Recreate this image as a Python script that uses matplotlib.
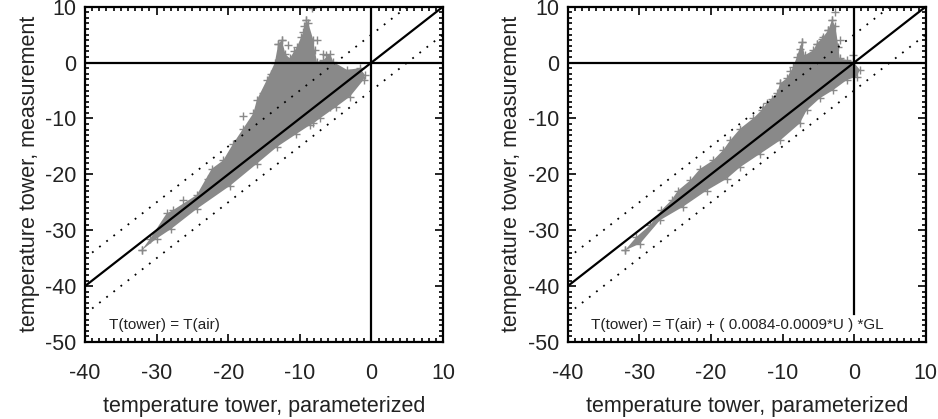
import numpy as np
import matplotlib
matplotlib.use("Agg")
import matplotlib.pyplot as plt
from matplotlib.ticker import MultipleLocator

plt.rcParams['font.family'] = ['Liberation Sans', 'DejaVu Sans']
plt.rcParams['axes.unicode_minus'] = False

# --- data -----------------------------------------------------------------
# dense core of the point cloud, outline (upper edge then lower edge)
left_upper_x = [-32.1, -30.9, -28.6, -27.7, -24.4, -22.3, -20.7, -19.3, -17.9, -16.5,
                -16.0, -14.6, -13.5, -13.0, -12.5, -12.0, -11.4, -10.4, -9.5, -9.1,
                -8.8, -8.1, -7.9, -7.6, -6.7, -5.8, -5.3, -3.4, -1.6, -0.9]
left_upper_y = [-33.6, -31.5, -27.0, -26.4, -23.7, -19.0, -17.5, -14.5, -11.8, -9.1,
                -6.7, -3.1, -0.1, 3.4, 4.0, 1.5, 0.75, 2.8, 5.5, 7.6,
                7.0, 4.0, 2.2, 0.1, 0.45, 1.6, 0.1, -1.3, -1.0, -2.2]
left_lower_x = [-1.1, -3.0, -4.9, -7.2, -8.1, -8.6, -10.5, -13.2, -16.0, -19.7,
                -24.4, -28.0, -30.0, -32.1]
left_lower_y = [-3.1, -6.1, -7.9, -10.0, -10.9, -11.2, -12.8, -15.1, -18.1, -22.0,
                -26.2, -29.8, -31.5, -33.6]
left_plus_x = [-8.3, -9.1, -9.4, -12.5, -13.0, -11.6, -7.6, -6.7, -17.9, -22.8,
               -26.3, -5.8, -10.8, -12.2, -14.0, -15.2, -9.9, -6.3]
left_plus_y = [9.7, 7.6, 6.5, 4.0, 3.4, 3.2, 4.0, 1.6, -9.5, -20.8,
               -24.6, -7.9, 2.0, -0.8, -2.0, -5.5, 4.5, 1.3]

right_upper_x = [-32.0, -30.4, -28.5, -26.9, -25.5, -24.6, -22.9, -21.5, -19.7, -18.3,
                 -17.3, -15.9, -14.1, -12.9, -12.2, -10.8, -10.3, -9.4, -8.5, -8.0,
                 -7.3, -6.9, -5.7, -5.2, -4.3, -3.6, -3.1, -2.6, -2.2, -2.0,
                 -1.0, -0.1, 0.8]
right_upper_y = [-33.6, -31.2, -29.1, -26.4, -24.6, -22.9, -21.1, -19.0, -17.5, -15.7,
                 -13.9, -11.8, -10.0, -8.5, -7.3, -5.5, -3.7, -2.8, -0.75, 1.0,
                 3.7, 1.3, 2.2, 3.4, 4.6, 5.8, 7.6, 6.5, 2.8, 0.75,
                 0.45, 0.15, -1.3]
right_lower_x = [0.4, -1.0, -2.9, -4.8, -6.6, -7.6, -10.3, -13.1, -15.9, -17.8,
                 -20.6, -23.9, -27.1, -29.9, -32.0]
right_lower_y = [-2.5, -3.1, -4.9, -6.4, -8.5, -10.9, -13.9, -16.3, -18.7, -20.8,
                 -22.9, -25.8, -28.2, -32.4, -33.6]
right_plus_x = [-2.6, -3.1, -3.6, -7.3, -7.5, -5.2, -4.5, -10.3, -11.5, -12.7,
                -0.1, -2.0, -6.2, -8.9]
right_plus_y = [9.1, 7.6, 5.8, 3.7, 2.5, 3.4, 4.3, -3.7, -6.5, -7.9,
                1.3, 4.0, 0.8, -1.5]

panels = [
    dict(ux=left_upper_x, uy=left_upper_y, lx=left_lower_x, ly=left_lower_y,
         px=left_plus_x, py=left_plus_y, label='T(tower) = T(air)', vline_bottom=-50),
    dict(ux=right_upper_x, uy=right_upper_y, lx=right_lower_x, ly=right_lower_y,
         px=right_plus_x, py=right_plus_y,
         label='T(tower) = T(air) + ( 0.0084-0.0009*U ) *GL', vline_bottom=-45),
]

gray = '#898989'
txt = '#222222'

fig = plt.figure(figsize=(9.38, 4.19), dpi=100)
lefts = [85 / 938, 567.7 / 938]

for left, p in zip(lefts, panels):
    ax = fig.add_axes([left, 1 - 342 / 419, 358 / 938, 335.3 / 419])

    # point cloud: solid core + '+' marks on its rim and the sparse outliers
    poly_x = list(p['ux']) + list(p['lx'])
    poly_y = list(p['uy']) + list(p['ly'])
    ax.fill(poly_x, poly_y, color=gray, lw=0, zorder=1)
    ax.plot(poly_x, poly_y, '+', color=gray, ms=6, mew=1, zorder=1)
    ax.plot(p['px'], p['py'], '+', color=gray, ms=6, mew=1, zorder=1)

    # reference lines
    ref = np.array([-40, 10])
    ax.plot(ref, ref, color='black', lw=1.6, zorder=3)
    ax.plot(ref, ref + 5, color='black', lw=1.3, ls=(0, (1, 4)), zorder=3)
    ax.plot(ref, ref - 5, color='black', lw=1.3, ls=(0, (1, 4)), zorder=3)
    ax.axhline(0, color='black', lw=1.6, zorder=3)
    ax.plot([0, 0], [p['vline_bottom'], 10], color='black', lw=1.6, zorder=3)

    ax.text(-36.7, -47, p['label'], fontsize=11, color=txt, va='center', ha='left')

    ax.set_xlim(-40, 10)
    ax.set_ylim(-50, 10)
    ax.xaxis.set_major_locator(MultipleLocator(10))
    ax.xaxis.set_minor_locator(MultipleLocator(1))
    ax.yaxis.set_major_locator(MultipleLocator(10))
    ax.yaxis.set_minor_locator(MultipleLocator(1))
    ax.tick_params(which='both', direction='in', top=True, right=True, width=1.2)
    ax.tick_params(which='major', length=6)
    ax.tick_params(which='minor', length=3)
    ax.tick_params(axis='x', which='major', pad=15, labelsize=15.5, labelcolor=txt)
    ax.tick_params(axis='y', which='major', pad=6, labelsize=15.5, labelcolor=txt)
    for s in ax.spines.values():
        s.set_linewidth(1.6)

    # IDL-style: end labels on the y axis kept inside the frame
    fig.canvas.draw()
    ylabels = ax.get_yticklabels()
    ylabels[0].set_va('bottom')
    ylabels[-1].set_va('top')

    ax.set_xlabel('temperature tower, parameterized', fontsize=15.5, color=txt, labelpad=9)
    ax.set_ylabel('temperature tower, measurement', fontsize=15.5, color=txt, labelpad=4)

fig.savefig('out.png', dpi=100)
